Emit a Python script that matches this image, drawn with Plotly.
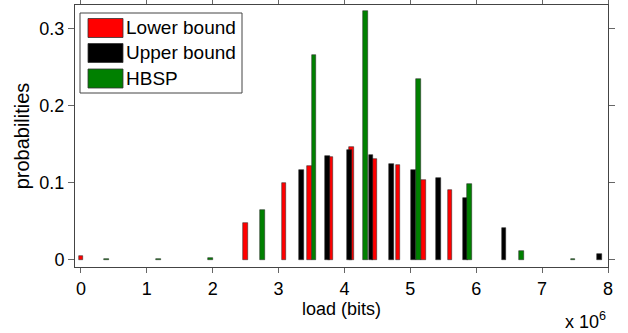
import plotly.graph_objects as go

# ---- data (load in units of 10^6 bits) ----
series_names = ["Lower bound", "Upper bound", "HBSP"]
series_colors = ["#ff0000", "#000000", "#008000"]

lower_load = [0.00, 2.50, 3.08, 3.47, 3.79, 4.11, 4.46, 4.81, 5.20, 5.60]
lower_prob = [0.005, 0.048, 0.100, 0.122, 0.133, 0.147, 0.131, 0.123, 0.104, 0.090]

upper_load = [3.35, 3.74, 4.08, 4.40, 4.71, 5.05, 5.43, 5.84, 6.42, 7.87]
upper_prob = [0.116, 0.135, 0.142, 0.136, 0.125, 0.116, 0.106, 0.080, 0.041, 0.0074]

hbsp_load = [0.39, 1.18, 1.97, 2.76, 3.54, 4.32, 5.12, 5.90, 6.69, 7.47]
hbsp_prob = [0.0004, 0.0004, 0.002, 0.064, 0.266, 0.323, 0.235, 0.098, 0.011, 0.0004]

x_tick_vals = [0, 1, 2, 3, 4, 5, 6, 7, 8]
x_tick_text = ["0", "1", "2", "3", "4", "5", "6", "7", "8"]
y_tick_vals = [0, 0.1, 0.2, 0.3]
y_tick_text = ["0", "0.1", "0.2", "0.3"]

FONT = "Liberation Sans, Arial, Helvetica, sans-serif"
W, H = 628, 333
ML, MR, MT, MB = 75, 20, 5, 66
PW, PH = W - ML - MR, H - MT - MB


def px2paper(px, py):
    return (px - ML) / PW, (H - MB - py) / PH


fig = go.Figure()
for name, color, xs, ys in zip(series_names, series_colors,
                               [lower_load, upper_load, hbsp_load],
                               [lower_prob, upper_prob, hbsp_prob]):
    fig.add_trace(go.Bar(
        x=xs, y=ys, name=name, width=0.07,
        marker=dict(color=color, line=dict(color="rgba(40,40,40,0.9)", width=0.6)),
        showlegend=False,
    ))

axis_common = dict(
    ticks="outside", tickcolor="#666", tickwidth=1,
    showline=True, linecolor="#444", linewidth=1, mirror="ticks",
    showgrid=False, zeroline=False, automargin=False,
    tickfont=dict(family=FONT, size=18, color="black"),
)

fig.update_layout(
    width=W, height=H,
    margin=dict(l=ML, r=MR, t=MT, b=MB),
    paper_bgcolor="white", plot_bgcolor="white",
    barmode="overlay", bargap=0,
    font=dict(family=FONT, color="black"),
    xaxis=dict(range=[-0.09, 8.0], tickvals=x_tick_vals, ticktext=x_tick_text,
               ticklen=5,
               title=dict(text="load (bits)", font=dict(family=FONT, size=18), standoff=2),
               **axis_common),
    yaxis=dict(range=[-0.0095, 0.331], tickvals=y_tick_vals, ticktext=y_tick_text,
               ticklen=6,
               title=dict(text="probabilities", font=dict(family=FONT, size=20), standoff=4),
               **axis_common),
)

# x 10^6 scale note
ax, ay = px2paper(608, 320)
fig.add_annotation(text="x 10<sup>6</sup>", x=ax, y=ay, xref="paper", yref="paper",
                   xanchor="right", yanchor="middle", showarrow=False,
                   font=dict(family=FONT, size=18, color="black"))

# legend (drawn manually to match the large swatches)
x0, y0 = px2paper(80, 13)
x1, y1 = px2paper(242, 93)
fig.add_shape(type="rect", xref="paper", yref="paper", x0=x0, y0=y1, x1=x1, y1=y0,
              line=dict(color="#444", width=1), fillcolor="white", layer="above")
row_top = [18.5, 43.5, 69]
for i, (name, color) in enumerate(zip(series_names, series_colors)):
    sx0, sy0 = px2paper(88, row_top[i])
    sx1, sy1 = px2paper(123, row_top[i] + 19)
    fig.add_shape(type="rect", xref="paper", yref="paper", x0=sx0, y0=sy1, x1=sx1, y1=sy0,
                  line=dict(color="#333", width=0.8), fillcolor=color, layer="above")
    tx, ty = px2paper(124, row_top[i] + 9.5)
    fig.add_annotation(text=name, x=tx, y=ty, xref="paper", yref="paper",
                       xanchor="left", yanchor="middle", showarrow=False,
                       font=dict(family=FONT, size=19, color="black"))

fig.write_html("out.html",
               config={"displayModeBar": False},
               post_script="document.body.style.margin='0';document.body.style.overflow='hidden';")
